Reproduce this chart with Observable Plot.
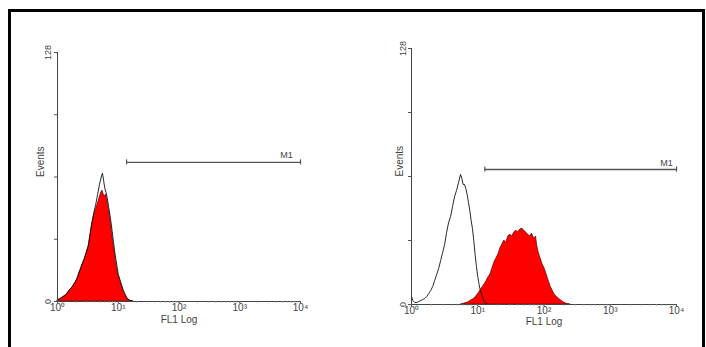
<!DOCTYPE html>
<html><head><meta charset="utf-8">
<script src="https://cdn.jsdelivr.net/npm/d3@7"></script>
<script src="https://cdn.jsdelivr.net/npm/@observablehq/plot@0.6"></script>
<style>
body{margin:0;background:#fff;}
#wrap{position:relative;width:706px;height:347px;overflow:hidden;background:#fff;}
#frame{position:absolute;left:8px;top:9px;width:697px;height:360px;border:3px solid #000;box-sizing:border-box;}
.panel{position:absolute;top:0;}
</style></head><body>
<div id="wrap"><div id="frame"></div><div id="left" class="panel" style="left:0"></div><div id="right" class="panel" style="left:353px"></div></div>
<script>
// FL1 position in log decades (10^0 .. 10^4) and event counts
const leftFilledDecade = [0.00,0.03,0.06,0.09,0.12,0.15,0.18,0.21,0.24,0.27,0.30,0.33,0.36,0.39,0.42,0.45,0.48,0.51,0.54,0.57,0.60,0.63,0.66,0.69,0.72,0.74,0.76,0.78,0.80,0.82,0.84,0.86,0.88,0.90,0.92,0.94,0.96,0.98,1.00,1.02,1.05,1.08,1.11,1.14,1.17,1.20,1.25];
const leftFilledCount  = [0.5,1,1.5,2,3,3.5,5,6,7,8.5,10,12,15,17,20,22,25,28,34,40,44,47,50,53,56,57,55,54,55,52,48,45,40,35,30,26,21,17,14,12,9,6,3.5,2,1,0.3,0];
const leftOpenDecade = [0.00,0.03,0.06,0.09,0.12,0.15,0.18,0.21,0.24,0.27,0.30,0.33,0.36,0.39,0.42,0.45,0.48,0.51,0.54,0.57,0.60,0.63,0.66,0.69,0.72,0.74,0.76,0.78,0.80,0.82,0.84,0.86,0.88,0.90,0.92,0.94,0.96,0.98,1.00,1.02,1.05,1.08,1.11,1.14,1.17,1.20,1.25];
const leftOpenCount  = [1.5,1,2,2.5,3,4,5,6.5,7.5,9,10.5,12.5,15,18,20,23,26,29,35,41,46,50,55,60,64,66,62,58,56,53,49,45,41,36,31,26,22,18,14,12,9,6,4,2,1,0.5,0];
const rightOpenDecade = [0.00,0.02,0.05,0.08,0.11,0.14,0.17,0.20,0.23,0.26,0.29,0.32,0.35,0.38,0.41,0.44,0.47,0.50,0.53,0.56,0.59,0.62,0.65,0.68,0.71,0.74,0.76,0.78,0.80,0.82,0.84,0.86,0.88,0.90,0.92,0.94,0.96,0.98,1.00,1.02,1.04,1.06,1.08,1.10,1.13,1.16];
const rightOpenCount  = [4,2,1,1,1.5,2,2.5,3,4,5.5,7,9,12,15,18,22,26,30,36,41,44,49,54,57,61,65,63,60,60,58,55,51,47,42,38,32,25,19,14,10,7,5,3,1.5,0.5,0];
const rightFilledDecade = [0.75,0.80,0.85,0.90,0.95,1.00,1.04,1.08,1.12,1.16,1.19,1.22,1.25,1.28,1.31,1.34,1.37,1.40,1.43,1.46,1.49,1.52,1.55,1.58,1.61,1.64,1.67,1.70,1.73,1.76,1.79,1.82,1.85,1.88,1.90,1.92,1.95,1.98,2.01,2.04,2.07,2.10,2.13,2.16,2.19,2.22,2.26,2.30,2.35,2.40];
const rightFilledCount  = [0,0.5,1,2,3,5,7,9,11,13.5,15,18,21,23,25,28,30,32,31,34,35,34,36,37,36,37.5,38,37,36,35,34,35.5,33,34,29,26,23,20,18,15,12,9,7,5,4,3,2,1,0.3,0];

const xTickValues = [1, 10, 100, 1000, 10000];
const xTickLabels = ["10\u2070", "10\u00b9", "10\u00b2", "10\u00b3", "10\u2074"];
const yTickValues = [0, 32, 64, 96, 128];
const yLabelValues = [0, 128];
const yLabelTexts = ["0", "128"];
const gateName = "M1";
const leftGate = {start: 13.7, end: 10000, level: 71.5};
const rightGate = {start: 12.8, end: 10000, level: 67.5};

const toRows = (dec, cnt) => dec.map((d, i) => ({fl1: 10 ** d, count: cnt[i]}));
const xLabelOf = d => xTickLabels[xTickValues.findIndex(v => Math.abs(v - d) < 1e-6 * v)] ?? "";

function panel(o) {
  const filled = toRows(o.filledDecade, o.filledCount);
  const open = toRows(o.openDecade, o.openCount);
  const g = o.gate;
  return Plot.plot({
    width: 353, height: 347,
    marginLeft: o.mL, marginRight: o.mR, marginTop: o.mT, marginBottom: o.mB,
    style: {fontFamily: "'Liberation Sans', Arial, sans-serif", fontSize: "10px", color: "#444", background: "transparent", overflow: "visible"},
    x: {type: "log", domain: [1, 10000]},
    y: {domain: [0, 128]},
    marks: [
      Plot.areaY(filled, {x: "fl1", y: "count", fill: "#ff0000", stroke: "#3a0000", strokeWidth: 0.6}),
      Plot.lineY(open, {x: "fl1", y: "count", stroke: "#111", strokeWidth: 0.9}),
      Plot.frame({anchor: "left", stroke: "#444"}),
      Plot.frame({anchor: "bottom", stroke: "#444"}),
      Plot.axisY({ticks: yTickValues, tickSize: 3, tickFormat: () => "", label: null, stroke: "#555"}),
      Plot.axisX({ticks: 40, tickSize: 1.5, tickFormat: () => "", label: null, stroke: "#777"}),
      Plot.axisX({ticks: xTickValues, tickSize: 2, tickPadding: 0, tickFormat: xLabelOf, label: null, stroke: "#555", fill: "#444"}),
      Plot.text(yLabelValues, {x: 1, y: d => d, text: (d, i) => yLabelTexts[i], rotate: -90, dx: o.yLabDx, fill: "#444", fontSize: 9}),
      Plot.text(["Events"], {frameAnchor: "left", dx: o.evDx, rotate: -90, fill: "#444"}),
      Plot.text(["FL1 Log"], {frameAnchor: "bottom", dy: o.flDy, fill: "#444"}),
      Plot.ruleY([g.level], {x1: g.start, x2: g.end, stroke: "#555", strokeWidth: 1.4}),
      Plot.ruleX([g.start, g.end], {y1: g.level - 1.3, y2: g.level + 1.3, stroke: "#555", strokeWidth: 1.2}),
      Plot.text([gateName], {x: g.end, y: g.level, dx: o.m1Dx, dy: o.m1Dy, fill: "#444", fontSize: 9})
    ]
  });
}

document.getElementById("left").append(panel({
  filledDecade: leftFilledDecade, filledCount: leftFilledCount,
  openDecade: leftOpenDecade, openCount: leftOpenCount,
  gate: leftGate, mL: 57, mR: 53, mT: 52, mB: 46,
  yLabDx: -9, evDx: -17, flDy: 21, m1Dx: -14, m1Dy: -7
}));
document.getElementById("right").append(panel({
  filledDecade: rightFilledDecade, filledCount: rightFilledCount,
  openDecade: rightOpenDecade, openCount: rightOpenCount,
  gate: rightGate, mL: 58, mR: 30, mT: 48, mB: 43,
  yLabDx: -8, evDx: -11.5, flDy: 20, m1Dx: -10, m1Dy: -6.5
}));
</script>
</body></html>
